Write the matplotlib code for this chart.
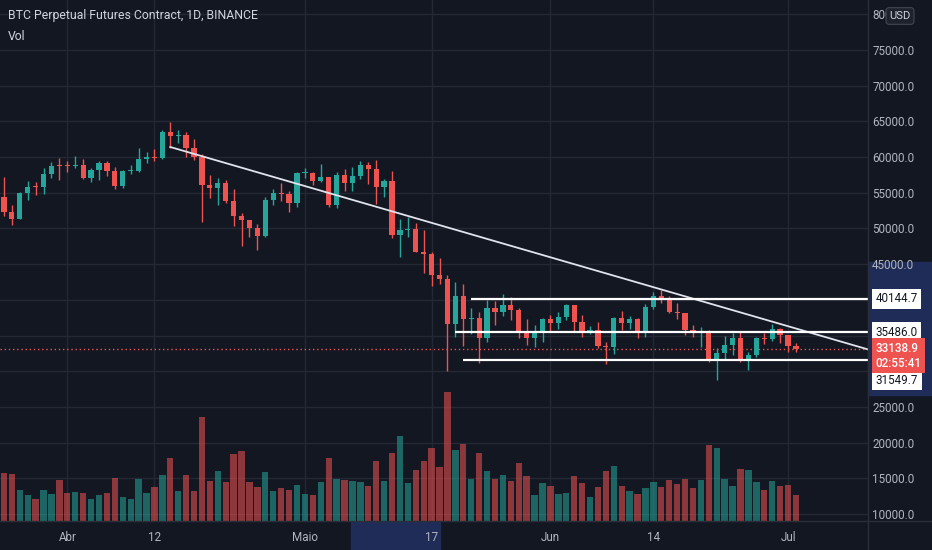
import numpy as np
import pandas as pd
import matplotlib
matplotlib.use("Agg")
import matplotlib.pyplot as plt
from matplotlib import transforms
from matplotlib.patches import Rectangle
from matplotlib.lines import Line2D

plt.rcParams['font.family'] = ['Roboto', 'DejaVu Sans']

#===========
# DATA (BTC perp, daily, 24 Mar -> 2 Jul)
#===========
dates = pd.date_range("2021-03-24", "2021-07-02", freq="D")

opens = [54342, 52303, 51293, 55025, 55817, 55777, 57635, 58746, 58740, 58720,
         58950, 57051, 58202, 59130, 57992, 56000, 58088, 58100, 59778, 59980,
         59838, 63575, 62959, 63159, 61334, 60006, 56150, 55634, 56425, 53787,
         51690, 51153, 50110, 49004, 54021, 55034, 54824, 53555, 57750, 57828,
         56610, 57214, 53241, 57474, 56428, 57380, 58928, 58280, 55859, 56704,
         49150, 49717, 49880, 46761, 46457, 43538, 42850, 36671, 40526, 37252,
         37449, 34655, 38796, 38325, 39241, 38530, 35662, 34605, 35642, 37253,
         36694, 37568, 39246, 36829, 35520, 35796, 33557, 33380, 37389, 36694,
         37313, 35551, 39020, 40516, 40143, 38349, 38098, 35820, 35483, 35600,
         31614, 32509, 33675, 34663, 31576, 32283, 34702, 34494, 35911, 35045,
         33502]
highs = [57200, 53236, 55073, 56700, 56559, 58405, 59368, 59800, 59490, 60200,
         59791, 58500, 59400, 59474, 58650, 58153, 58894, 61300, 60666, 61199,
         63777, 64854, 63800, 63520, 62506, 60499, 57526, 57040, 56757, 55477,
         52130, 51166, 50573, 54356, 55460, 56428, 55196, 57963, 58458, 57911,
         58982, 57214, 57963, 58363, 58650, 59500, 59300, 59592, 56888, 58000,
         51367, 51560, 50700, 49800, 46643, 45800, 43546, 42451, 42200, 38829,
         38270, 39920, 39791, 40841, 40411, 38877, 37338, 36488, 37499, 37894,
         38225, 39476, 39289, 37925, 36400, 36900, 34068, 37534, 38400, 37690,
         37436, 39380, 41064, 41330, 40527, 39560, 38208, 36457, 36137, 35750,
         33298, 34881, 35298, 35500, 32730, 34749, 35297, 36600, 36100, 35057,
         33977]
lows = [51700, 50427, 51279, 53950, 54691, 54800, 57000, 56770, 57935, 58428,
        56890, 56478, 56789, 57333, 55473, 55700, 57654, 57873, 59200, 59386,
        59799, 61301, 62020, 60000, 59580, 50931, 54221, 53329, 53596, 50400,
        47500, 48750, 46930, 48817, 53223, 53813, 52330, 53013, 57052, 56035,
        56479, 53000, 52900, 55200, 55241, 56900, 56235, 53400, 54370, 48600,
        46000, 48805, 46650, 43825, 42001, 42250, 30000, 34850, 33488, 35200,
        31111, 34031, 36419, 37800, 37134, 34684, 33632, 33379, 34153, 35666,
        35920, 37170, 35555, 34800, 35258, 33300, 31000, 32396, 35782, 35936,
        34600, 34757, 38730, 39506, 38116, 37365, 35129, 34804, 33336, 31251,
        28805, 31683, 32286, 31275, 30151, 31973, 33862, 34225, 34017, 32711,
        32699]
closes = [52303, 51293, 55025, 55817, 55777, 57635, 58746, 58740, 58720, 58950,
          57051, 58202, 59130, 57992, 56000, 58088, 58100, 59778, 59980, 59838,
          63575, 62959, 63159, 61334, 60006, 56150, 55634, 56425, 53787, 51690,
          51153, 50110, 49004, 54021, 55034, 54824, 53555, 57750, 57828, 56610,
          57214, 53241, 57474, 56428, 57380, 58928, 58280, 55859, 56704, 49150,
          49717, 49880, 46761, 46457, 43538, 42850, 36671, 40526, 37252, 37449,
          34655, 38796, 38325, 39241, 38530, 35662, 34605, 35642, 37253, 36694,
          37568, 39246, 36829, 35520, 35796, 33552, 33380, 37389, 36693, 37313,
          35551, 39020, 40516, 40144, 38349, 38092, 35820, 35483, 35600, 31608,
          32509, 33678, 34663, 31584, 32283, 34700, 34494, 35911, 35045, 33504,
          33139]
# volume, arbitrary units (K)
volume = [47.7, 47, 31, 25.7, 21.7, 31.3, 27, 41, 28, 29,
          28, 21.7, 26, 28, 43, 23.7, 21.7, 42, 28, 34,
          46, 63, 30, 46, 30, 103.7, 40, 50, 39, 67,
          70, 39, 34, 49, 30, 32.7, 31.3, 36, 27, 25.7,
          39, 63, 42, 41, 40, 39, 35, 60, 40, 68,
          85, 38, 51, 60, 73, 54, 129, 71, 77, 42,
          68, 50, 42, 46, 40, 58, 45, 26, 38, 35,
          27, 28, 45, 38, 24, 34, 50, 55, 35, 30,
          27, 33, 39, 34, 41, 37, 42, 33, 41, 76,
          73, 42, 35, 52, 51, 39, 31, 40, 35, 36,
          26]

last_price = 33138.9
countdown = "02:55:41"
levels = [40144.7, 35486.0, 31549.7]
level_start = ["2021-05-22", "2021-05-20", "2021-05-21"]
trend_pts = [("2021-04-14", 61410), ("2021-07-02", 35981)]

tick_dates = ["2021-04-01", "2021-04-12", "2021-05-01", "2021-05-17",
              "2021-06-01", "2021-06-14", "2021-07-01"]
tick_labels = ["Abr", "12", "Maio", "17", "Jun", "14", "Jul"]
price_ticks = list(range(10000, 80001, 5000))
hidden_ticks = [30000, 35000, 40000]

#===========
# STYLE
#===========
BG = "#131722"
UP = "#26a69a"
DOWN = "#ef5350"
GRID = "#242834"
TXT = "#b2b5be"
HL = "#1f2c57"
W, H = 932, 550
PR, PB = 868, 521   # right / bottom edge of the pane in px

def didx(d):
    return dates.get_loc(pd.Timestamp(d))

x = np.arange(len(dates))
o = np.array(opens); c = np.array(closes)
hi = np.array(highs); lo = np.array(lows)
cols = np.where(c >= o, UP, DOWN)

rect = [0, (H - PB) / H, PR / W, PB / H]
fig = plt.figure(figsize=(W / 100, H / 100), dpi=100, facecolor=BG)
ax = fig.add_axes(rect, facecolor=BG)
axv = fig.add_axes(rect, facecolor="none")

xlim = (-0.5, 109.1)
ax.set_xlim(*xlim)
ax.set_ylim(9013, 82005)

# volume
axv.bar(x, volume, width=0.8, color=cols, alpha=0.55, lw=0)
axv.set_xlim(*xlim)
axv.set_ylim(0, max(volume) * PB / 129)
axv.set_axis_off()

# candles
ax.vlines(x, lo, hi, colors=cols, lw=1, zorder=3)
body = np.maximum(np.abs(c - o), 140)
ax.bar(x, body, bottom=np.minimum(o, c), width=0.66, color=cols, lw=0, zorder=4)

# trend line
(d0, p0), (d1, p1) = trend_pts
x0, x1 = didx(d0), didx(d1)
slope = (p1 - p0) / (x1 - x0)
ax.plot([x0, xlim[1]], [p0, p0 + slope * (xlim[1] - x0)], color="#e0e3eb", lw=1.3, zorder=5)

# horizontal levels
ylab = transforms.blended_transform_factory(ax.transAxes, ax.transData)
for lv, st, off in zip(levels, level_start, [0, 0, -20]):
    ax.hlines(lv, didx(st), xlim[1], colors="white", lw=1.6, zorder=5)
    ax.annotate(f"{lv:.1f}", xy=(1, lv), xycoords=ylab, xytext=(5.5, off * 0.72),
                textcoords="offset points", ha="left", va="center", fontsize=8.4,
                color="#131722", annotation_clip=False, zorder=10,
                bbox=dict(boxstyle="square,pad=0.3", fc="white", ec="none"))

# last price
ax.axhline(last_price, color=DOWN, ls=(0, (1, 2)), lw=1, zorder=2)
ax.annotate(f"{last_price:.1f}\n{countdown}", xy=(1, last_price), xycoords=ylab,
            xytext=(5.5, -5), textcoords="offset points", ha="left", va="center",
            fontsize=8.4, color="white", fontweight="medium", linespacing=1.2,
            annotation_clip=False, zorder=11,
            bbox=dict(boxstyle="square,pad=0.3", fc=DOWN, ec="none"))

# highlighted ranges on axes
xhl = transforms.blended_transform_factory(ax.transData, ax.transAxes)
ax.add_patch(Rectangle((43.8, -(H - PB) / PB), 11.3, (H - PB) / PB, transform=xhl,
                       color=HL, clip_on=False, zorder=0.5))
ax.add_patch(Rectangle((1.0, 26665), (W - PR) / PR, 45300 - 26665, transform=ylab,
                       color=HL, clip_on=False, zorder=0.5))

# ticks / grid
ax.set_xticks([didx(d) for d in tick_dates], tick_labels)
ax.set_yticks(price_ticks, ["" if p in hidden_ticks else f"{p:.1f}" for p in price_ticks])
ax.yaxis.tick_right()
ax.tick_params(axis="x", length=0, pad=7, labelsize=8.4, labelcolor=TXT)
ax.tick_params(axis="y", length=0, pad=3, labelsize=8.4, labelcolor=TXT)
ax.grid(True, color=GRID, lw=1, zorder=0)
ax.set_axisbelow(True)
for s in ax.spines.values():
    s.set_visible(False)

fig.add_artist(Line2D([PR / W, PR / W], [0, 1], transform=fig.transFigure, color="#2a2e39", lw=1))
fig.add_artist(Line2D([0, 1], [(H - PB) / H] * 2, transform=fig.transFigure, color="#2a2e39", lw=1))

fig.text(8 / W, 1 - 16 / H, "BTC Perpetual Futures Contract, 1D, BINANCE",
         color="#d1d4dc", fontsize=8.8, va="center", ha="left")
fig.text(8 / W, 1 - 36 / H, "Vol", color="#d1d4dc", fontsize=8.8, va="center", ha="left")
fig.text(900 / W, 1 - 16 / H, "USD", color="#d1d4dc", fontsize=8, va="center", ha="center",
         bbox=dict(boxstyle="round,pad=0.3", fc="#1e222d", ec="#434651", lw=0.8))

fig.savefig("out.png", dpi=100, facecolor=BG)
